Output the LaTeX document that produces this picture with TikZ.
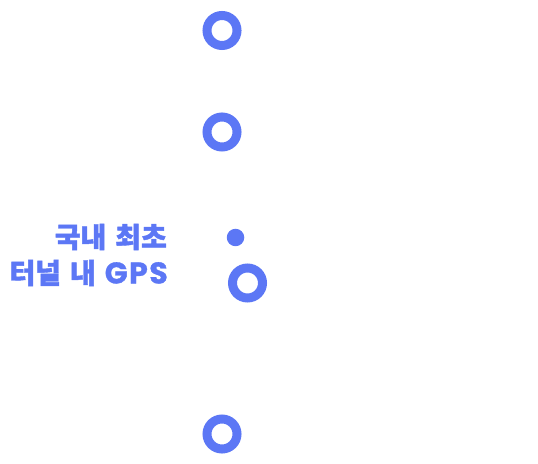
\documentclass[tikz,border=0pt]{standalone}
\usepackage{fontspec}
\usepackage{tikz}
\usetikzlibrary{positioning}
\newfontfamily\krfont{Noto Sans CJK KR}[WordSpace=1.4, BoldFeatures={FakeBold=1.5}]
\newfontfamily\latfont{Poppins}[LetterSpace=5, BoldFeatures={FakeBold=1}]
\definecolor{accent}{HTML}{5C77F5}

\begin{document}
\begin{tikzpicture}[x=1bp, y=-1bp,
  ring/.style={circle, draw=accent, line width=9bp, minimum size=30bp, inner sep=0pt},
  dot/.style={circle, fill=accent, minimum size=17.5bp, inner sep=0pt},
  lbl/.style={font=\krfont\bfseries\fontsize{28bp}{36bp}\selectfont, text=accent,
              anchor=base east, inner sep=0pt}]
  \useasboundingbox (0,0) rectangle (538,464);
  \node[ring] (r1) at (222,30.5) {};
  \node[ring] (r2) at (222,132) {};
  \node[dot] (d) at (235.5,237.5) {};
  \node[ring] (r3) at (247.5,283) {};
  \node[ring] (r4) at (222,434) {};
  % label beside the dot
  \node[lbl] (first) at (167,247.5) {국내 최초};
  \node[lbl] (tunnel) at (168,283.5) {터널 내 {\latfont\bfseries\fontsize{30bp}{36bp}\selectfont GPS}};
\end{tikzpicture}
\end{document}
